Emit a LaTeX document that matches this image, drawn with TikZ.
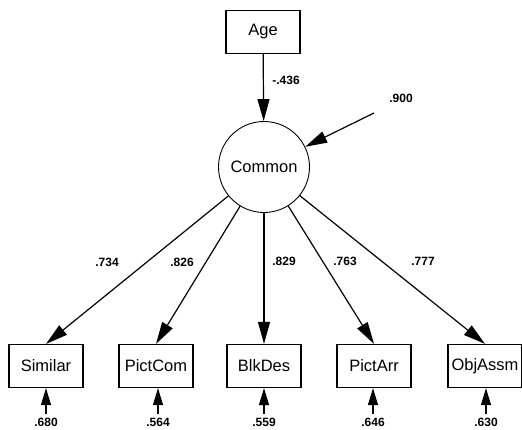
\documentclass[tikz,border=0pt]{standalone}
\usepackage{fontspec}
\setmainfont{Liberation Sans}
\usetikzlibrary{arrows.meta}
\begin{document}
\begin{tikzpicture}[x=1pt,y=-1pt,
  obs/.style={draw,line width=1.2pt,minimum width=74pt,minimum height=43pt,inner sep=0pt,font=\fontsize{16.5}{19}\selectfont},
  lat/.style={draw,circle,line width=0.9pt,minimum size=91pt,inner sep=0pt,font=\fontsize{16.5}{19}\selectfont},
  lab/.style={font=\bfseries\fontsize{12}{14}\selectfont,inner sep=1pt},
  arr/.style={line width=1.2pt,-{Triangle[length=22pt,width=12pt]}},
  earr/.style={line width=1.2pt,-{Triangle[length=17pt,width=10pt]}}]
\useasboundingbox (0,0) rectangle (522,430);
\node[obs] (age) at (263,32) {Age};
\node[lat] (common) at (264,167) {Common};
\node[obs] (sim) at (46,366) {Similar};
\node[obs] (pict) at (156,366) {PictCom};
\node[obs] (blk) at (264,366) {BlkDes};
\node[obs] (parr) at (374,366) {PictArr};
\node[obs] (obj) at (485,366) {ObjAssm};
\draw[arr] (age) -- (common);
\coordinate (e0) at (374,113);
\draw[arr] (e0) -- (common);
\node[lab] (lage) at (286,80) {-.436};
\node[lab] (lerr) at (401,98) {.900};
\draw[arr] (common) -- (sim.north);
\draw[arr] (common) -- (pict.north);
\draw[arr] (common) -- (blk.north);
\draw[arr] (common) -- (parr.north);
\draw[arr] (common) -- (obj.north);
\node[lab] (l1) at (107,262) {.734};
\node[lab] (l2) at (182,262) {.826};
\node[lab] (l3) at (284,261) {.829};
\node[lab] (l4) at (345,261) {.763};
\node[lab] (l5) at (423,261) {.777};
\foreach \n/\x/\v in {sim/46/.680,pict/158/.564,blk/264/.559,parr/373/.646,obj/486/.630}{
  \coordinate (u\n) at (\x,414);
  \draw[earr] (u\n) -- (\n.south -| u\n);
  \node[lab,inner sep=0pt] (v\n) at (\x,422.5) {\v};
}
\end{tikzpicture}
\end{document}
